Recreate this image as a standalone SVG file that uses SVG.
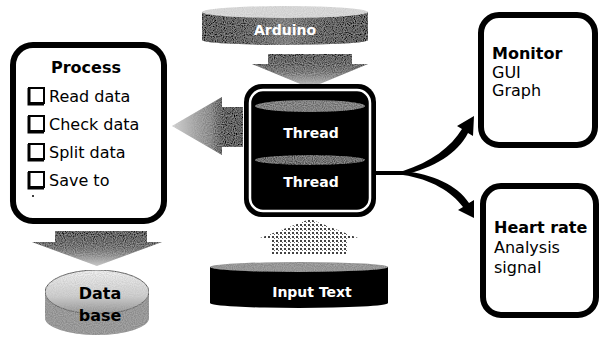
<svg xmlns="http://www.w3.org/2000/svg" width="601" height="340" viewBox="0 0 601 340">
<style>
.box{fill:#fff;stroke:#000;stroke-width:6}
.t{font-family:"DejaVu Sans","Verdana",sans-serif;font-size:16px;fill:#000}
.b{font-weight:bold}
.w{fill:#fff;font-weight:bold;text-anchor:middle;font-size:14px}
.cb{fill:#fff;stroke:#000;stroke-width:2}
.cbs{fill:none;stroke:#000;stroke-width:3}
</style>
<defs>
<linearGradient id="gDown" x1="0" y1="0" x2="0" y2="1">
<stop offset="0" stop-color="#111"/><stop offset="0.5" stop-color="#555"/><stop offset="1" stop-color="#ccc"/>
</linearGradient>
<linearGradient id="gLeft" x1="0" y1="0" x2="1" y2="0">
<stop offset="0" stop-color="#d8d8d8"/><stop offset="0.55" stop-color="#777"/><stop offset="0.75" stop-color="#111"/><stop offset="1" stop-color="#000"/>
</linearGradient>
<linearGradient id="gCylDark" x1="0" y1="0" x2="1" y2="0">
<stop offset="0" stop-color="#000"/><stop offset="0.25" stop-color="#222"/><stop offset="0.5" stop-color="#666"/><stop offset="0.75" stop-color="#222"/><stop offset="1" stop-color="#000"/>
</linearGradient>
<linearGradient id="gDb" x1="0" y1="0" x2="0" y2="1">
<stop offset="0" stop-color="#f4f4f4"/><stop offset="0.6" stop-color="#cfcfcf"/><stop offset="1" stop-color="#888"/>
</linearGradient>
<pattern id="dots" width="4" height="4" patternUnits="userSpaceOnUse">
<rect width="4" height="4" fill="#fff"/><rect x="0" y="0" width="2" height="2" fill="#222"/><rect x="2" y="2" width="1" height="1" fill="#555"/>
</pattern>
<filter id="grain" x="0" y="0" width="1" height="1">
<feTurbulence type="fractalNoise" baseFrequency="0.9" numOctaves="1" seed="3" result="n"/>
<feColorMatrix in="n" type="matrix" values="0 0 0 0 0.5  0 0 0 0 0.5  0 0 0 0 0.5  0 0 0 1.2 -0.35" result="m"/>
<feComposite in="m" in2="SourceGraphic" operator="in" result="c"/>
<feMerge><feMergeNode in="SourceGraphic"/><feMergeNode in="c"/></feMerge>
</filter>
</defs>

<g id="connectors">
<polygon points="268,54 352,54 352,64 368,64 310,88 252,64 268,64" fill="url(#gDown)" filter="url(#grain)"/>
<polygon points="243,107 222,107 222,97 172,126 222,155 222,147 243,147" fill="url(#gLeft)" filter="url(#grain)"/>
<polygon points="55,231 147,231 147,242 162,242 97,266 32,242 55,242" fill="url(#gDown)" filter="url(#grain)"/>
<polygon points="310,219 358,238 348,238 348,254 272,254 272,238 260,238" fill="url(#dots)" opacity="0.85"/>
<rect x="374" y="171" width="30" height="4" fill="#000"/>
<path d="M403,171 C431,162 451,147 462,129 L457,126 L474,116 L473,136 L468,133 C458,153 434,168 403,175 Z" fill="#000"/>
<path d="M403,171 C433,174 457,185 469,203 L474,200 L474,218 L458,210 L463,207 C452,192 431,179 403,175 Z" fill="#000"/>
</g>

<g id="arduino">
<path d="M202,12 L202,40 A83,5 0 0 0 368,40 L368,12 Z" fill="url(#gCylDark)" filter="url(#grain)"/>
<ellipse cx="285" cy="12" rx="83" ry="6" fill="#ddd" filter="url(#grain)"/>
<text class="t w" x="285" y="35" font-size="15">Arduino</text>
</g>

<g id="process">
<rect class="box" x="13" y="45" width="151" height="176" rx="20"/>
<text class="t b" x="86" y="73" text-anchor="middle" font-size="17">Process</text>
<rect class="cb" x="29" y="88" width="15" height="15"/><path class="cbs" d="M29,88 V104 H44"/>
<text class="t" x="49" y="102">Read data</text>
<rect class="cb" x="29" y="116" width="15" height="15"/><path class="cbs" d="M29,116 V132 H44"/>
<text class="t" x="49" y="130">Check data</text>
<rect class="cb" x="29" y="144" width="15" height="15"/><path class="cbs" d="M29,144 V160 H44"/>
<text class="t" x="49" y="158">Split data</text>
<rect class="cb" x="29" y="172" width="15" height="15"/><path class="cbs" d="M29,172 V188 H44"/>
<text class="t" x="49" y="186">Save to</text>
<circle cx="33" cy="196" r="1" fill="#000"/>
</g>

<g id="database">
<path d="M45,292 L45,318 A52,17 0 0 0 149,318 L149,292 Z" fill="#8a8a8a" filter="url(#grain)"/>
<ellipse cx="97" cy="292" rx="52" ry="22" fill="url(#gDb)" stroke="#555" stroke-width="1" filter="url(#grain)"/>
<text class="t b" x="100" y="299" text-anchor="middle" font-size="15">Data</text>
<text class="t b" x="100" y="321" text-anchor="middle" font-size="15">base</text>
</g>

<g id="thread">
<rect x="244" y="84" width="132" height="133" rx="18" fill="#000"/>
<rect x="250" y="90" width="120" height="121" rx="13" fill="none" stroke="#fff" stroke-width="2.5"/>
<ellipse cx="310" cy="106" rx="55" ry="6" fill="#666" filter="url(#grain)"/>
<text class="t w" x="311" y="138">Thread</text>
<ellipse cx="310" cy="160" rx="55" ry="5" fill="#444" filter="url(#grain)"/>
<text class="t w" x="311" y="187">Thread</text>
</g>

<g id="input">
<path d="M210,267 L210,303 A89,5 0 0 0 388,303 L388,267 Z" fill="#000"/>
<ellipse cx="299" cy="267" rx="89" ry="5" fill="#888" filter="url(#grain)"/>
<text class="t w" x="312" y="297" font-size="15">Input Text</text>
</g>

<g id="monitor">
<rect class="box" x="481" y="15" width="114" height="130" rx="18"/>
<text class="t b" x="492" y="59">Monitor</text>
<text class="t" x="492" y="78" font-size="15">GUI</text>
<text class="t" x="492" y="96" font-size="15">Graph</text>
</g>

<g id="heartrate">
<rect class="box" x="483" y="186" width="113" height="129" rx="18"/>
<text class="t b" x="494" y="233">Heart rate</text>
<text class="t" x="494" y="253">Analysis</text>
<text class="t" x="494" y="273">signal</text>
</g>
</svg>
